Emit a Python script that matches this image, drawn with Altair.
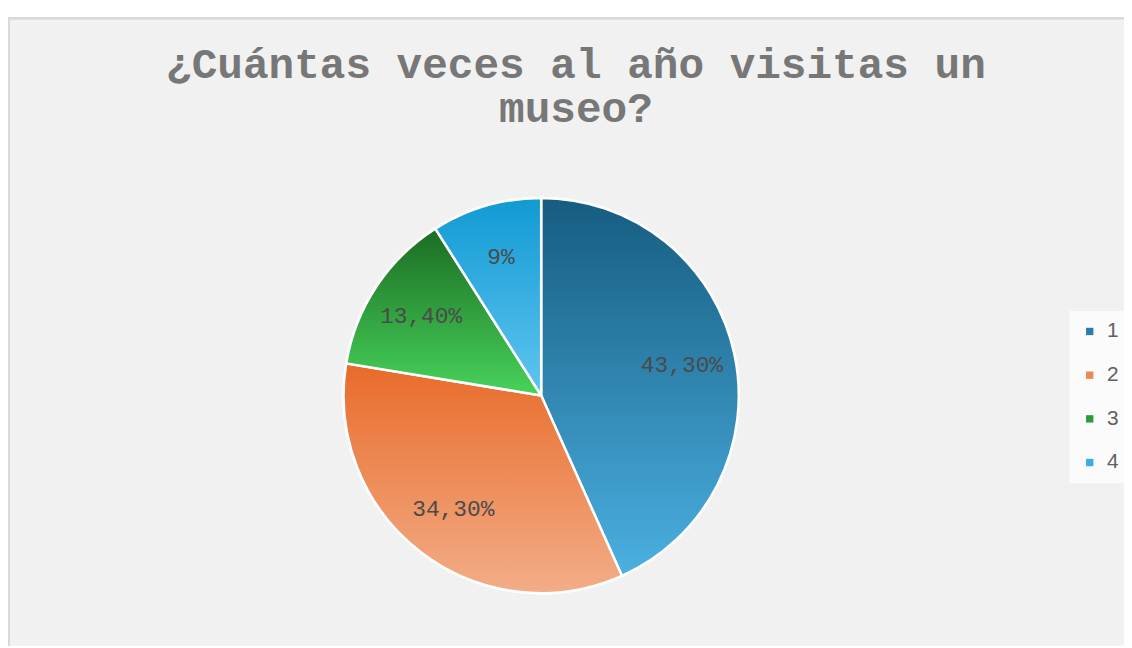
import altair as alt
import pandas as pd

# ---- data ----
categories = ["1", "2", "3", "4"]
values = [43.3, 34.3, 13.4, 9.0]
labels = ["43,30%", "34,30%", "13,40%", "9%"]
title_lines = ["¿Cuántas veces al año visitas un", "museo?"]

legend_colors = ["#2b7cab", "#ee8752", "#2e9a3a", "#3aaee3"]
gradients = {
    "1": ("#165c80", "#4bb0e1"),
    "2": ("#e86b2a", "#f3ad88"),
    "3": ("#1b6c23", "#48d35b"),
    "4": ("#119ad3", "#60c5f0"),
}

df = pd.DataFrame({"cat": categories, "value": values, "label": labels})
df["end"] = df["value"].cumsum()
df["start"] = df["end"] - df["value"]
df["mid"] = (df["start"] + df["end"]) / 2

CX, CY, R = 537, 381, 199
W, H = 1124, 633
theta_scale = alt.Scale(domain=[0, 100])

base = alt.Chart(df)

legend_layer = base.mark_arc(outerRadius=R, stroke="white", strokeWidth=2.5).encode(
    theta=alt.Theta("start:Q", scale=theta_scale),
    theta2="end:Q",
    x=alt.value(CX),
    y=alt.value(CY),
    color=alt.Color(
        "cat:N",
        scale=alt.Scale(domain=categories, range=legend_colors),
        legend=alt.Legend(
            orient="none",
            legendX=1069,
            legendY=296,
            title=None,
            symbolType="square",
            symbolSize=55,
            symbolStrokeWidth=0,
            symbolOpacity=1,
            labelFontSize=21,
            labelColor="#606060",
            labelFont="Liberation Sans",
            labelOffset=7,
            rowPadding=22,
            fillColor="#fbfbfb",
            padding=10,
        ),
    ),
)

layers = [legend_layer]
for c in categories:
    top, bottom = gradients[c]
    grad = alt.Gradient(
        gradient="linear",
        stops=[alt.GradientStop(color=top, offset=0), alt.GradientStop(color=bottom, offset=1)],
        x1=0, x2=0, y1=0, y2=1,
    )
    layers.append(
        base.transform_filter(alt.datum.cat == c)
        .mark_arc(outerRadius=R, fill=grad, stroke="white", strokeWidth=2.5)
        .encode(
            theta=alt.Theta("start:Q", scale=theta_scale),
            theta2="end:Q",
            x=alt.value(CX),
            y=alt.value(CY),
        )
    )

text_layer = base.mark_text(
    radius=145, font="Liberation Mono", fontSize=23, color="#4a4a4a"
).encode(
    theta=alt.Theta("mid:Q", scale=theta_scale),
    text="label:N",
    x=alt.value(CX),
    y=alt.value(CY),
)
layers.append(text_layer)

title_df = pd.DataFrame({"t": title_lines, "line": [0, 1]})
for i, line in enumerate(title_lines):
    layers.append(
        alt.Chart(title_df)
        .transform_filter(alt.datum.line == i)
        .mark_text(
            font="Liberation Mono",
            fontSize=43,
            fontWeight="bold",
            color="#777777",
            baseline="alphabetic",
            align="center",
        )
        .encode(text="t:N", x=alt.value(572), y=alt.value(61 + 45 * i))
    )

# frame: top and left edges only (right/bottom fall outside the picture)
border_top = base.mark_rule(color="#d9d9d9", strokeWidth=2).encode(
    x=alt.value(0), x2=alt.value(W), y=alt.value(1)
)
border_left = base.mark_rule(color="#d9d9d9", strokeWidth=2).encode(
    x=alt.value(1), y=alt.value(0), y2=alt.value(H)
)
layers += [border_top, border_left]

chart = (
    alt.layer(*layers)
    .properties(
        width=W,
        height=H,
        autosize="none",
        padding={"top": 7, "left": 0, "right": 0, "bottom": 0},
        background="white",
    )
    .configure_view(fill="#f1f1f1", strokeWidth=0)
)

chart.save("out.html", embed_options={"renderer": "svg", "actions": False})
